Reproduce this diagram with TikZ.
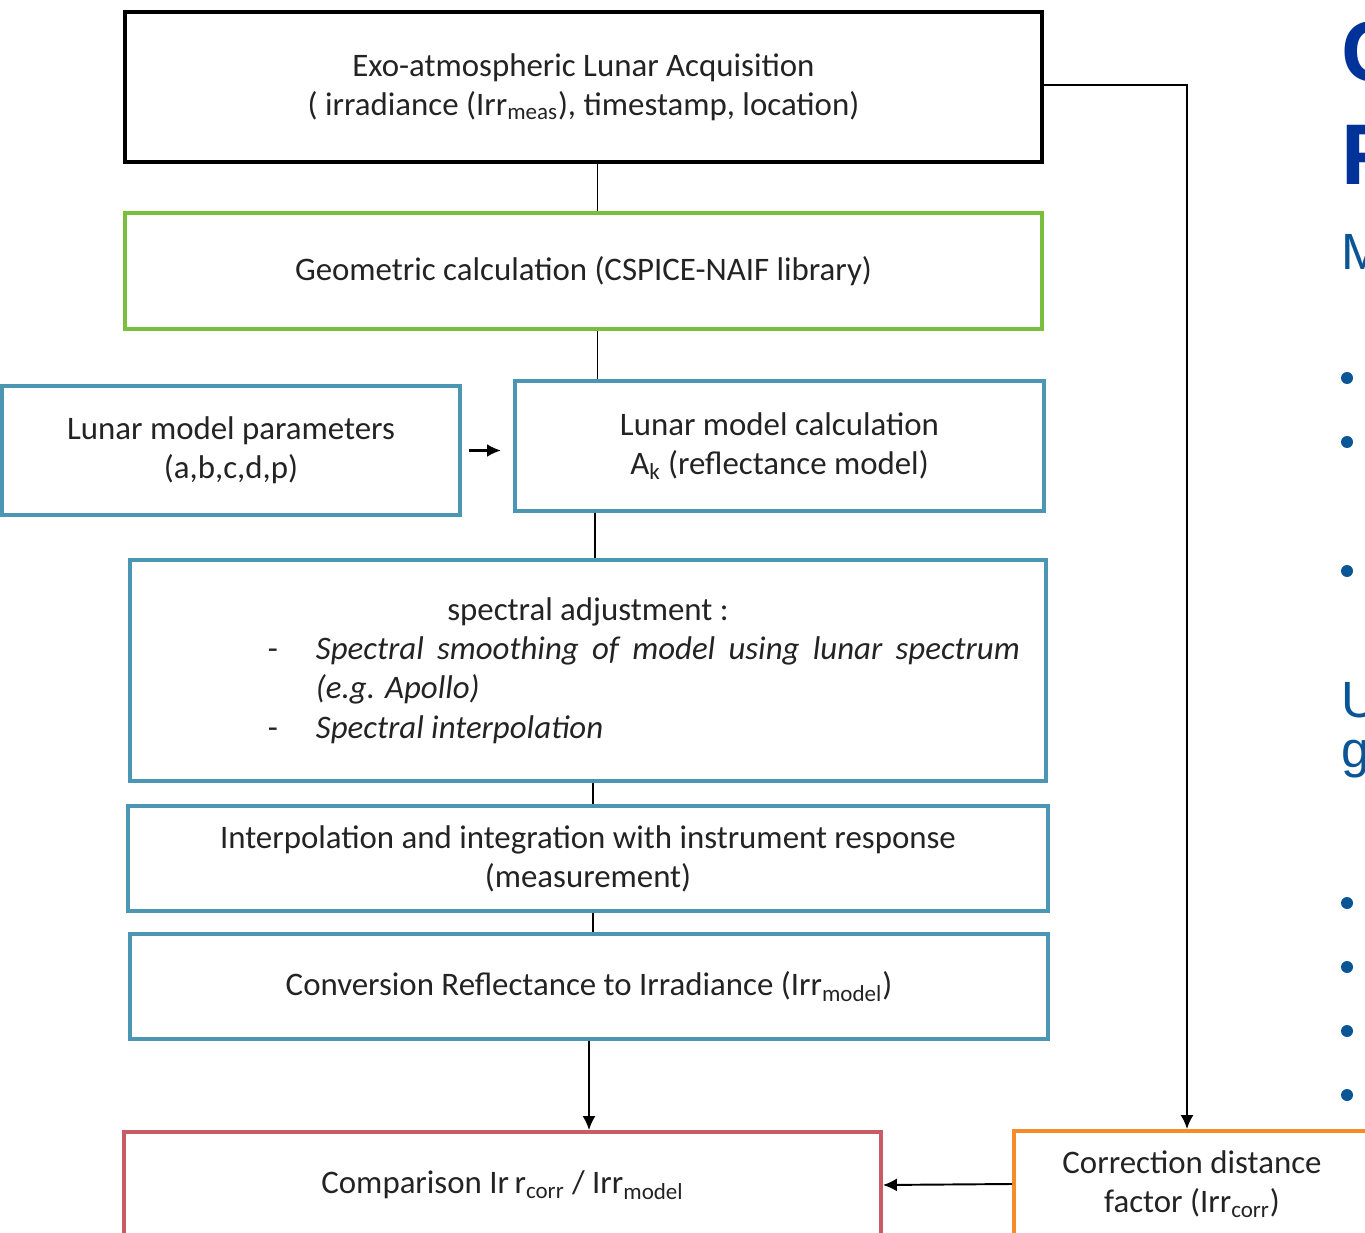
\documentclass[tikz,border=0pt]{standalone}
\usepackage{fontspec}
\setmainfont{Carlito}
\newfontfamily\slidefont{Liberation Sans}
\usetikzlibrary{arrows.meta}
\definecolor{boxblue}{RGB}{75,150,178}
\definecolor{boxgreen}{RGB}{122,190,62}
\definecolor{boxred}{RGB}{200,92,100}
\definecolor{boxorange}{RGB}{245,140,40}
\definecolor{txtgray}{RGB}{35,35,35}
\definecolor{slidenavy}{RGB}{0,51,153}
\definecolor{slideblue}{RGB}{10,85,150}
\begin{document}
\begin{tikzpicture}[
    stage/.style = {draw, line width = 2.2pt, text = txtgray, align = center,
                    inner sep = 0pt, font = \fontsize{18.7}{22.3}\selectfont},
    link/.style = {line width = 1.1pt},
    flow/.style = {line width = 1.1pt, -{Latex[length=.28cm, width=.26cm]}},
    slide/.style = {anchor = base west, inner sep = 0pt}
  ]
  \clip (0,0) rectangle (27.3,-24.66);
  \node [stage, line width = 2.6pt, minimum width = 18.34cm, minimum height = 3cm]
    (acq) at (11.67,-1.74)
    {Exo-atmospheric Lunar Acquisition\\( irradiance (Irr\textsubscript{meas}), timestamp, location)};
  \node [stage, draw = boxgreen, minimum width = 18.34cm, minimum height = 2.32cm]
    (geo) at (11.67,-5.42) {Geometric calculation (CSPICE-NAIF library)};
  \node [stage, draw = boxblue, minimum width = 9.16cm, minimum height = 2.58cm]
    (params) at (4.62,-9.01) {Lunar model parameters\\(a,b,c,d,p)};
  \node [stage, draw = boxblue, minimum width = 10.58cm, minimum height = 2.6cm]
    (calc) at (15.59,-8.92) {Lunar model calculation\\A\textsubscript{k} (reflectance model)};
  \node [stage, draw = boxblue, align = justify, text width = 18.32cm,
         minimum height = 4.42cm]
    (spec) at (11.76,-13.41) {%
      \makebox[\linewidth]{spectral adjustment :}\par
      \noindent\hspace*{2.76cm}\makebox[.96cm][l]{-}%
      \makebox[14.08cm][s]{\itshape Spectral smoothing of model using lunar spectrum}\par
      \noindent\hspace*{3.72cm}\textit{(e.g. Apollo)}\par
      \noindent\hspace*{2.76cm}\makebox[.96cm][l]{-}\textit{Spectral interpolation}\par};
  \node [stage, draw = boxblue, minimum width = 18.4cm, minimum height = 2.1cm]
    (interp) at (11.76,-17.17)
    {Interpolation and integration with instrument response\\(measurement)};
  \node [stage, draw = boxblue, minimum width = 18.36cm, minimum height = 2.1cm]
    (conv) at (11.78,-19.73) {Conversion Reflectance to Irradiance (Irr\textsubscript{model})};
  \node [stage, draw = boxred, minimum width = 15.14cm, minimum height = 2.12cm]
    (comp) at (10.05,-23.7) {Comparison Ir\,r\textsubscript{corr} / Irr\textsubscript{model}};
  \node [stage, draw = boxorange, minimum width = 7.12cm, minimum height = 2.12cm]
    (corr) at (23.84,-23.68) {Correction distance\\factor (Irr\textsubscript{corr})};

  \draw [link] ([xshift=.28cm]acq.south) -- ([xshift=.28cm]acq.south |- geo.north);
  \draw [link] ([xshift=.28cm]geo.south) -- ([xshift=.28cm]geo.south |- calc.north);
  \draw [link] ([xshift=.14cm]spec.north |- calc.south) -- ([xshift=.14cm]spec.north);
  \draw [link] ([xshift=.1cm]spec.south) -- ([xshift=.1cm]spec.south |- interp.north);
  \draw [link] ([xshift=.1cm]interp.south) -- ([xshift=.1cm]interp.south |- conv.north);
  \draw [flow] (conv.south) -- (conv.south |- comp.north);
  \draw [flow, line width = 1.6pt, shorten <= .14cm, shorten >= .24cm]
    (params.east) -- (params.east -| calc.west);
  \draw [flow] ([yshift=.04cm]acq.east) -| ([xshift=-.1cm]corr.north);
  \draw [flow] (corr.west) -- (comp.east);

  % slide text cut by the right edge
  \node [slide, font = \slidefont\bfseries\fontsize{49}{49}\selectfont, text = slidenavy]
    (titleC) at (26.82,-1.64) {C};
  \node [slide, font = \slidefont\bfseries\fontsize{49}{49}\selectfont, text = slidenavy]
    (titleF) at (26.82,-3.7) {F};
  \node [slide, font = \slidefont\fontsize{29}{29}\selectfont, text = slideblue]
    (lineM) at (26.82,-5.4) {M};
  \node [slide, font = \slidefont\fontsize{29}{29}\selectfont, text = slideblue]
    (lineU) at (26.82,-14.34) {U};
  \node [slide, font = \slidefont\fontsize{29}{29}\selectfont, text = slideblue]
    (lineg) at (26.82,-15.34) {g};
  \foreach \y in {7.56,8.84,11.42,18.06,19.34,20.62,21.9}
    \fill [slideblue] (26.94,-\y) circle (.12);
\end{tikzpicture}
\end{document}
